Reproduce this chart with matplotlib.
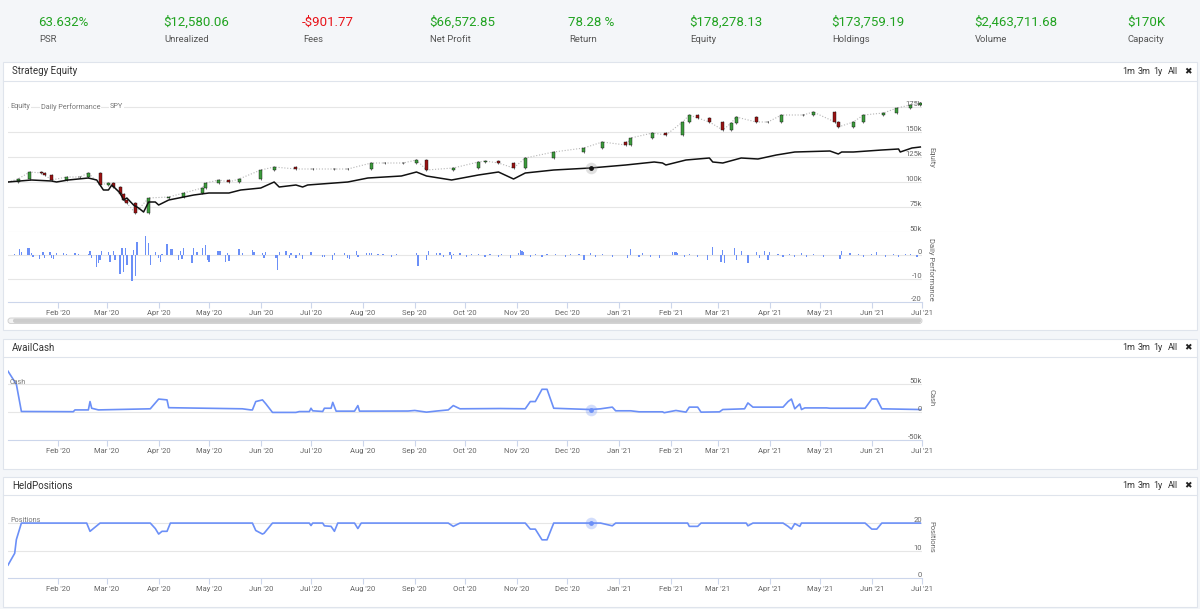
"""
plot.py
Rebuilds the backtest dashboard: stats strip, Strategy Equity (equity candles,
SPY benchmark, daily performance bars), AvailCash and HeldPositions panels.
"""

import pandas as pd
import matplotlib.pyplot as plt
import matplotlib.dates as mdates
from matplotlib.patches import Rectangle, FancyBboxPatch
from matplotlib.transforms import blended_transform_factory

plt.rcParams["font.family"] = ["Roboto", "DejaVu Sans"]

# ---- data ----------------------------------------------------------------
stat_labels = ["PSR", "Unrealized", "Fees", "Net Profit", "Return",
               "Equity", "Holdings", "Volume", "Capacity"]
stat_values = ["63.632%", "$12,580.06", "-$901.77", "$66,572.85", "78.28 %",
               "$178,278.13", "$173,759.19", "$2,463,711.68", "$170K"]

equity_dates = [
    "2020-01-02", "2020-01-08", "2020-01-15", "2020-01-22", "2020-01-24", "2020-01-28",
    "2020-02-06", "2020-02-14", "2020-02-19", "2020-02-26", "2020-03-02", "2020-03-05",
    "2020-03-09", "2020-03-11", "2020-03-13", "2020-03-18", "2020-03-26", "2020-04-07",
    "2020-04-16", "2020-04-27", "2020-04-29", "2020-05-07", "2020-05-13", "2020-05-19",
    "2020-06-01", "2020-06-09", "2020-06-22", "2020-07-02", "2020-07-15", "2020-07-23",
    "2020-08-06", "2020-08-14", "2020-08-25", "2020-09-02", "2020-09-08", "2020-09-24",
    "2020-10-09", "2020-10-13", "2020-10-21", "2020-10-30", "2020-11-06", "2020-11-23",
    "2020-12-11", "2020-12-22", "2021-01-05", "2021-01-08", "2021-01-21", "2021-01-29",
    "2021-02-08", "2021-02-12", "2021-02-17", "2021-02-24", "2021-03-04", "2021-03-09",
    "2021-03-12", "2021-03-24", "2021-03-31", "2021-04-08", "2021-04-21", "2021-04-27",
    "2021-05-10", "2021-05-12", "2021-05-21", "2021-05-27", "2021-06-08", "2021-06-16",
    "2021-06-24", "2021-06-30"]
equity_values = [
    100, 103, 110, 109, 107, 102,
    105, 105, 109, 97, 99, 95,
    88, 82, 79, 69, 84, 85,
    89, 94, 99, 102, 100, 103,
    112, 115, 113, 113, 113, 113,
    119, 119, 119, 122, 112, 114,
    120, 121, 119, 114, 124, 130,
    134, 140, 137, 144, 149, 147,
    160, 167, 164, 160, 152, 159,
    165, 160, 160, 167, 167, 170,
    160, 155, 160, 167, 169, 174,
    177, 179]

spy_dates = [
    "2020-01-02", "2020-01-16", "2020-01-28", "2020-01-31", "2020-02-07", "2020-02-19",
    "2020-02-24", "2020-02-28", "2020-03-02", "2020-03-04", "2020-03-09", "2020-03-11",
    "2020-03-13", "2020-03-17", "2020-03-20", "2020-03-23", "2020-03-26", "2020-03-30",
    "2020-04-01", "2020-04-07", "2020-04-16", "2020-04-22", "2020-05-01", "2020-05-13",
    "2020-05-20", "2020-06-01", "2020-06-09", "2020-06-12", "2020-06-22", "2020-06-26",
    "2020-06-29", "2020-07-07", "2020-07-23", "2020-08-04", "2020-08-24", "2020-09-02",
    "2020-09-08", "2020-09-23", "2020-10-09", "2020-10-21", "2020-10-30", "2020-11-06",
    "2020-11-23", "2020-12-15", "2021-01-05", "2021-01-22", "2021-01-27", "2021-01-29",
    "2021-02-10", "2021-02-24", "2021-02-26", "2021-03-04", "2021-03-15", "2021-03-25",
    "2021-04-05", "2021-04-16", "2021-05-07", "2021-05-12", "2021-05-14", "2021-05-21",
    "2021-06-07", "2021-06-17", "2021-06-18", "2021-06-25", "2021-06-30"]
spy_values = [
    100, 102, 101, 100, 102, 104,
    102, 92, 92, 97, 89, 82,
    84, 77, 74, 70, 80, 80,
    77, 82, 85, 87, 89, 89,
    92, 94, 100, 95, 97, 95,
    97, 98, 100, 104, 106, 110,
    106, 102, 107, 110, 103, 109,
    112, 114, 117, 120, 119, 117,
    122, 124, 120, 119, 124, 123,
    127, 130, 131, 128, 130, 130,
    132, 133, 130, 134, 135]

perf_dates = [
    "2020-01-06", "2020-01-09", "2020-01-10", "2020-01-14", "2020-01-15", "2020-01-16",
    "2020-01-17", "2020-01-21", "2020-01-23", "2020-01-24", "2020-01-27", "2020-01-28",
    "2020-01-29", "2020-01-31", "2020-02-04", "2020-02-06", "2020-02-11", "2020-02-13",
    "2020-02-19", "2020-02-20", "2020-02-21", "2020-02-24", "2020-02-25", "2020-02-26",
    "2020-02-27", "2020-03-02", "2020-03-03", "2020-03-05", "2020-03-06", "2020-03-09",
    "2020-03-10", "2020-03-11", "2020-03-12", "2020-03-13", "2020-03-16", "2020-03-17",
    "2020-03-18", "2020-03-19", "2020-03-24", "2020-03-26", "2020-03-27", "2020-03-30",
    "2020-04-01", "2020-04-02", "2020-04-03", "2020-04-06", "2020-04-08", "2020-04-09",
    "2020-04-13", "2020-04-14", "2020-04-15", "2020-04-16", "2020-04-21", "2020-04-22",
    "2020-04-24", "2020-04-27", "2020-04-29", "2020-04-30", "2020-05-01", "2020-05-06",
    "2020-05-07", "2020-05-08", "2020-05-11", "2020-05-12", "2020-05-13", "2020-05-19",
    "2020-05-21", "2020-05-27", "2020-05-28", "2020-06-02", "2020-06-03", "2020-06-04",
    "2020-06-10", "2020-06-11", "2020-06-12", "2020-06-16", "2020-06-18", "2020-06-19",
    "2020-06-22", "2020-06-24", "2020-06-26", "2020-07-01", "2020-07-08", "2020-07-09",
    "2020-07-14", "2020-07-15", "2020-07-21", "2020-07-23", "2020-07-24", "2020-07-28",
    "2020-07-29", "2020-08-03", "2020-08-05", "2020-08-06", "2020-08-10", "2020-08-13",
    "2020-08-18", "2020-08-21", "2020-09-02", "2020-09-03", "2020-09-08", "2020-09-09",
    "2020-09-14", "2020-09-16", "2020-09-18", "2020-09-22", "2020-09-23", "2020-09-24",
    "2020-09-28", "2020-10-02", "2020-10-05", "2020-10-09", "2020-10-13", "2020-10-16",
    "2020-10-21", "2020-10-23", "2020-10-28", "2020-11-02", "2020-11-03", "2020-11-04",
    "2020-11-05", "2020-11-09", "2020-11-12", "2020-11-16", "2020-11-19", "2020-11-24",
    "2020-11-30", "2020-12-03", "2020-12-08", "2020-12-11", "2020-12-15", "2020-12-18",
    "2020-12-22", "2020-12-28", "2021-01-06", "2021-01-08", "2021-01-13", "2021-01-15",
    "2021-01-20", "2021-01-25", "2021-02-02", "2021-02-03", "2021-02-04", "2021-02-05",
    "2021-02-09", "2021-02-12", "2021-02-17", "2021-02-23", "2021-02-26", "2021-03-03",
    "2021-03-04", "2021-03-05", "2021-03-11", "2021-03-12", "2021-03-15", "2021-03-19",
    "2021-03-24", "2021-03-26", "2021-03-29", "2021-03-31", "2021-04-01", "2021-04-06",
    "2021-04-09", "2021-04-13", "2021-04-16", "2021-04-20", "2021-04-23", "2021-04-27",
    "2021-05-03", "2021-05-13", "2021-05-14", "2021-05-19", "2021-05-24", "2021-05-27",
    "2021-06-01", "2021-06-04", "2021-06-09", "2021-06-14", "2021-06-17", "2021-06-21",
    "2021-06-24", "2021-06-28"]
perf_values = [
    0.5, 2.7, 1.3, 3.3, 3.0, 1.0,
    -0.7, -1.6, 1.3, -1.3, 1.3, -1.3,
    -1.5, 1.0, 0.8, 0.6, 0.9, 0.4,
    0.5, 2.0, -1.3, -5.0, -3.3, -2.0,
    1.8, 1.3, -2.7, 2.0, -2.0, -8.0,
    3.3, -7.3, 3.3, -4.0, -11.0, 2.3,
    -8.7, 5.7, 8.4, 5.3, -4.0, 1.3,
    -1.3, -2.7, 0.7, 4.7, 2.7, 2.7,
    -2.0, 2.0, -1.7, 3.0, -3.3, 3.0,
    1.3, 3.3, 4.4, -2.0, -3.0, 2.0,
    2.0, 2.0, -3.0, 1.2, -2.4, 2.7,
    0.9, 2.3, 1.3, 1.2, -1.0, 1.3,
    -1.2, -6.4, 1.3, 2.0, -1.0, 0.8,
    -1.2, 1.0, -1.5, 1.3, -0.6, -0.8,
    -2.0, 0.9, 1.0, -1.0, -1.6, 2.0,
    -0.9, 1.0, 0.8, 1.0, 0.6, 0.5,
    -0.6, 0.5, 1.2, -4.4, -2.0, 1.7,
    1.0, 1.2, -0.8, 1.3, -1.4, 0.6,
    0.9, -0.7, 0.5, 0.5, -0.6, 0.5,
    -0.5, 0.6, -1.2, 1.0, 2.3, 2.0,
    1.5, -0.8, 0.7, -0.6, 0.6, 0.5,
    -0.6, 0.5, 0.6, -2.0, 0.9, -0.7,
    0.5, -0.8, -1.3, 2.7, -0.7, 0.8,
    -0.9, -1.2, 1.5, 1.5, 1.6, 1.2,
    -0.5, 0.6, -0.5, -2.0, 3.6, -3.0,
    2.3, -3.2, 3.3, -2.0, 2.0, -3.3,
    1.3, -1.3, 2.0, -2.0, 1.3, 0.7,
    -0.6, 0.6, -0.9, 0.8, -0.7, 0.5,
    -0.8, -1.7, 1.7, 1.0, 0.7, -0.6,
    0.5, 1.3, -0.7, 0.6, -0.9, 0.7,
    0.5, -0.5]

cash_dates = [
    "2020-01-02", "2020-01-07", "2020-01-10", "2020-02-10", "2020-02-11", "2020-02-19",
    "2020-02-20", "2020-02-21", "2020-02-25", "2020-03-27", "2020-04-01", "2020-04-06",
    "2020-04-07", "2020-05-21", "2020-05-26", "2020-05-27", "2020-05-29", "2020-06-02",
    "2020-06-04", "2020-06-08", "2020-06-22", "2020-06-24", "2020-06-30", "2020-07-01",
    "2020-07-02", "2020-07-08", "2020-07-09", "2020-07-13", "2020-07-14", "2020-07-16",
    "2020-07-27", "2020-07-29", "2020-07-30", "2020-08-28", "2020-09-01", "2020-09-08",
    "2020-09-14", "2020-09-21", "2020-09-24", "2020-09-28", "2020-10-22", "2020-11-06",
    "2020-11-09", "2020-11-12", "2020-11-16", "2020-11-19", "2020-11-23", "2020-12-15",
    "2020-12-21", "2020-12-28", "2020-12-30", "2021-01-08", "2021-01-13", "2021-01-27",
    "2021-01-28", "2021-02-04", "2021-02-10", "2021-02-12", "2021-02-17", "2021-02-19",
    "2021-03-02", "2021-03-04", "2021-03-17", "2021-03-19", "2021-03-22", "2021-04-09",
    "2021-04-12", "2021-04-14", "2021-04-16", "2021-04-19", "2021-04-20", "2021-04-22",
    "2021-05-05", "2021-05-07", "2021-05-28", "2021-06-01", "2021-06-04", "2021-06-07",
    "2021-06-30"]
cash_values = [
    73.5, 50, 1.2, 0.8, 4, 4,
    19, 7, 4, 6, 23.5, 22,
    8, 6, 4, 4, 19, 22,
    15, -0.5, -0.5, 1, 1, 7,
    2.4, 1.2, 7, 7, 17.6, 1.8,
    1.8, 11.8, 1.8, 2, 3, 0,
    2, 4, 11.8, 6, 6.5, 6,
    19, 19, 41, 41, 7, 4.7,
    6, 9, 2.4, 2.4, 0.6, 0.6,
    -1, 3, 0, 9, 9, 0,
    0.5, 4.7, 6, 16.5, 9, 9,
    19, 23.5, 6, 14.7, 4.7, 7.6,
    7.6, 7, 7, 23.5, 23.5, 6,
    4.7]

pos_dates = [
    "2020-01-02", "2020-01-06", "2020-01-07", "2020-01-10", "2020-02-18", "2020-02-20",
    "2020-02-24", "2020-02-26", "2020-03-27", "2020-03-30", "2020-04-01", "2020-04-03",
    "2020-04-06", "2020-04-08", "2020-05-27", "2020-05-29", "2020-06-02", "2020-06-03",
    "2020-06-08", "2020-06-30", "2020-07-01", "2020-07-02", "2020-07-08", "2020-07-09",
    "2020-07-13", "2020-07-15", "2020-07-17", "2020-07-27", "2020-07-29", "2020-07-31",
    "2020-09-21", "2020-09-24", "2020-09-28", "2020-11-06", "2020-11-09", "2020-11-12",
    "2020-11-16", "2020-11-19", "2020-11-23", "2020-12-15", "2020-12-21", "2020-12-28",
    "2020-12-30", "2021-02-11", "2021-02-12", "2021-02-17", "2021-02-19", "2021-03-18",
    "2021-03-19", "2021-03-22", "2021-04-09", "2021-04-12", "2021-04-14", "2021-04-16",
    "2021-04-19", "2021-04-20", "2021-05-28", "2021-06-01", "2021-06-04", "2021-06-07",
    "2021-06-30"]
pos_values = [
    4.7, 9, 14, 20, 20, 17,
    19, 20, 20, 18, 16, 17,
    17, 20, 20, 17.3, 16, 16.3,
    20, 20, 19.1, 20, 20, 19,
    18.8, 17, 20, 20, 18, 20,
    20, 18.8, 20, 20, 17.8, 17.8,
    13.9, 13.9, 20, 20, 20, 19,
    20, 20, 18.8, 18.8, 20, 20,
    19, 20, 20, 18.8, 17.8, 19.8,
    18.8, 20, 20, 17.8, 17.8, 20,
    20]

hover_date = "2020-12-15"

# ---- styling -------------------------------------------------------------
W, H = 1200, 609
GREEN = "#21a321"
RED = "#e8141a"
BLUE = "#6b8ff7"
GRID = "#e6e6e6"
AXIS = "#ccd6eb"
TXT = "#666666"
BORDER = "#dfe4ec"


def rect(x0, y0, x1, y1):
    # pixel box (top-left origin) -> figure fraction
    return [x0 / W, 1 - y1 / H, (x1 - x0) / W, (y1 - y0) / H]


def style_time_axis(ax, show_labels=True):
    ax.set_xlim(pd.Timestamp("2020-01-02"), pd.Timestamp("2021-07-01"))
    ax.xaxis.set_major_locator(mdates.MonthLocator())
    ax.xaxis.set_major_formatter(mdates.DateFormatter("%b '%y"))
    ax.tick_params(axis="x", length=4, width=0.8, color=AXIS, labelsize=5.5,
                   labelcolor=TXT, pad=2, labelbottom=show_labels)
    ax.tick_params(axis="y", length=0, labelleft=False, labelright=False)
    for side in ["top", "left", "right"]:
        ax.spines[side].set_visible(False)
    ax.spines["bottom"].set_color(AXIS)
    ax.spines["bottom"].set_linewidth(0.8)
    ax.set_facecolor("none")


def right_labels(ax, ticks, texts):
    tr = blended_transform_factory(ax.transAxes, ax.transData)
    for t, s in zip(ticks, texts):
        ax.text(1.0, t, s, transform=tr, ha="right", va="bottom",
                fontsize=5.5, color=TXT)


def hover_marker(ax, x, y, color, dot):
    ax.scatter([x], [y], s=70, color=color, alpha=0.3, zorder=8, linewidths=0)
    ax.scatter([x], [y], s=6, color=dot, zorder=9)


fig = plt.figure(figsize=(12, 6.09), dpi=100)
fig.patch.set_facecolor("#f4f6f9")

bg = fig.add_axes([0, 0, 1, 1], zorder=0)
bg.set_xlim(0, W)
bg.set_ylim(H, 0)
bg.axis("off")

# stats strip
stat_x = [38, 163, 302, 429, 568, 689, 831, 974, 1127]
for x, lab, val in zip(stat_x, stat_labels, stat_values):
    col = RED if val.startswith("-") else GREEN
    bg.text(x, 22, val, fontsize=9.5, color=col, va="center", ha="left")
    bg.text(x + 1, 39, lab, fontsize=6.8, color="#555555", va="center", ha="left")

# panels with header strips
panels = [(62, 81, 330, "Strategy Equity"), (339, 357, 469, "AvailCash"),
          (477, 495, 607, "HeldPositions")]
for top, head, bottom, title in panels:
    bg.add_patch(Rectangle((3, top), 1194, bottom - top, facecolor="white",
                           edgecolor=BORDER, linewidth=0.8))
    bg.plot([3, 1197], [head, head], color=BORDER, linewidth=0.8)
    cy = (top + head) / 2
    bg.text(12, cy, title, fontsize=7, color="#333333", va="center")
    for bx, s in zip([1122, 1138, 1153, 1168], ["1m", "3m", "1y", "All"]):
        bg.text(bx, cy, s, fontsize=6.5, color="#333333", va="center")
    bg.text(1184, cy, "\u2716", fontsize=6.5, color="#222222", va="center",
            family=["DejaVu Sans"])

# scrollbar under the equity navigator
bg.add_patch(FancyBboxPatch((8, 318), 914, 5.5, boxstyle="round,pad=0,rounding_size=2.7",
                            facecolor="#f2f2f2", edgecolor="#cccccc", linewidth=0.6))
bg.add_patch(FancyBboxPatch((13, 318.6), 908, 4.3, boxstyle="round,pad=0,rounding_size=2.1",
                            facecolor="#cccccc", edgecolor="none"))

eq_d = pd.to_datetime(equity_dates)
spy_d = pd.to_datetime(spy_dates)
perf_d = pd.to_datetime(perf_dates)
cash_d = pd.to_datetime(cash_dates)
pos_d = pd.to_datetime(pos_dates)
hover = pd.Timestamp(hover_date)

# ---- Strategy Equity -----------------------------------------------------
ax_eq = fig.add_axes(rect(8, 95, 922, 232), zorder=2)
style_time_axis(ax_eq, show_labels=False)
ax_eq.spines["bottom"].set_visible(False)
ax_eq.tick_params(axis="x", length=0)
ax_eq.set_ylim(50, 187)
eq_ticks = [50, 75, 100, 125, 150, 175]
ax_eq.set_yticks(eq_ticks)
ax_eq.grid(axis="y", color=GRID, linewidth=0.8)
ax_eq.set_axisbelow(True)

ax_eq.plot(eq_d, equity_values, color="#b5b5b5", linewidth=0.8,
           linestyle=(0, (1, 1.6)), zorder=2)
opens = equity_values[:-1]
closes = equity_values[1:]
body = [c - o for o, c in zip(opens, closes)]
cols = ["#3c9c3c" if b >= 0 else "#9a1212" for b in body]
ax_eq.vlines(eq_d[1:], [min(o, c) - 0.6 for o, c in zip(opens, closes)],
             [max(o, c) + 0.6 for o, c in zip(opens, closes)],
             color="#111111", linewidth=0.4, zorder=3)
ax_eq.bar(eq_d[1:], body, bottom=opens, width=1.8, color=cols,
          edgecolor="#111111", linewidth=0.3, zorder=4)

ax_eq.plot(spy_d, spy_values, color="#111111", linewidth=1.1, zorder=5)
hover_marker(ax_eq, hover, spy_values[list(spy_d).index(hover)], "#999999", "#111111")
right_labels(ax_eq, eq_ticks, ["50k", "75k", "100k", "125k", "150k", "175k"])

# daily performance bars
ax_dp = fig.add_axes(rect(8, 232, 922, 302), zorder=2)
style_time_axis(ax_dp)
ax_dp.set_ylim(-20, 10)
ax_dp.set_yticks([0, -10])
ax_dp.grid(axis="y", color=GRID, linewidth=0.8)
ax_dp.set_axisbelow(True)
ax_dp.bar(perf_d, perf_values, width=0.8, color=BLUE, linewidth=0, zorder=3)
right_labels(ax_dp, [0, -10, -20], ["0", "-10", "-20"])

# ---- AvailCash -----------------------------------------------------------
ax_c = fig.add_axes(rect(8, 362, 922, 440), zorder=2)
style_time_axis(ax_c)
ax_c.set_ylim(-50, 90)
ax_c.set_yticks([0, 50])
ax_c.grid(axis="y", color=GRID, linewidth=0.8)
ax_c.set_axisbelow(True)
ax_c.plot(cash_d, cash_values, color=BLUE, linewidth=1.2, zorder=3)
hover_marker(ax_c, hover, cash_values[list(cash_d).index(hover)], BLUE, BLUE)
right_labels(ax_c, [50, 0, -50], ["50k", "0", "-50k"])

# ---- HeldPositions -------------------------------------------------------
ax_p = fig.add_axes(rect(8, 500, 922, 578), zorder=2)
style_time_axis(ax_p)
ax_p.set_ylim(0, 28.4)
ax_p.set_yticks([10, 20])
ax_p.grid(axis="y", color=GRID, linewidth=0.8)
ax_p.set_axisbelow(True)
ax_p.plot(pos_d, pos_values, color=BLUE, linewidth=1.2, zorder=3)
hover_marker(ax_p, hover, pos_values[list(pos_d).index(hover)], BLUE, BLUE)
right_labels(ax_p, [0, 10, 20], ["0", "10", "20"])

# ---- overlay texts (legend, series names, axis titles) -------------------
top = fig.add_axes([0, 0, 1, 1], zorder=10)
top.set_xlim(0, W)
top.set_ylim(H, 0)
top.axis("off")
box = dict(facecolor="white", edgecolor="none", pad=0.6)
for x, s in zip([10, 41, 110], ["Equity", "Daily Performance", "SPY"]):
    top.text(x, 107, s, fontsize=5.2, color="#777777", va="center", bbox=box)
top.text(10, 383, "Cash", fontsize=5.2, color="#777777", va="center")
top.text(10, 521, "Positions", fontsize=5.2, color="#777777", va="center")
for y, s in [(157, "Equity"), (269, "Daily Performance"), (398, "Cash"), (537, "Positions")]:
    top.text(931, y, s, fontsize=5.5, color=TXT, rotation=270, ha="center", va="center")

fig.savefig("out.png", dpi=100, facecolor=fig.get_facecolor())
